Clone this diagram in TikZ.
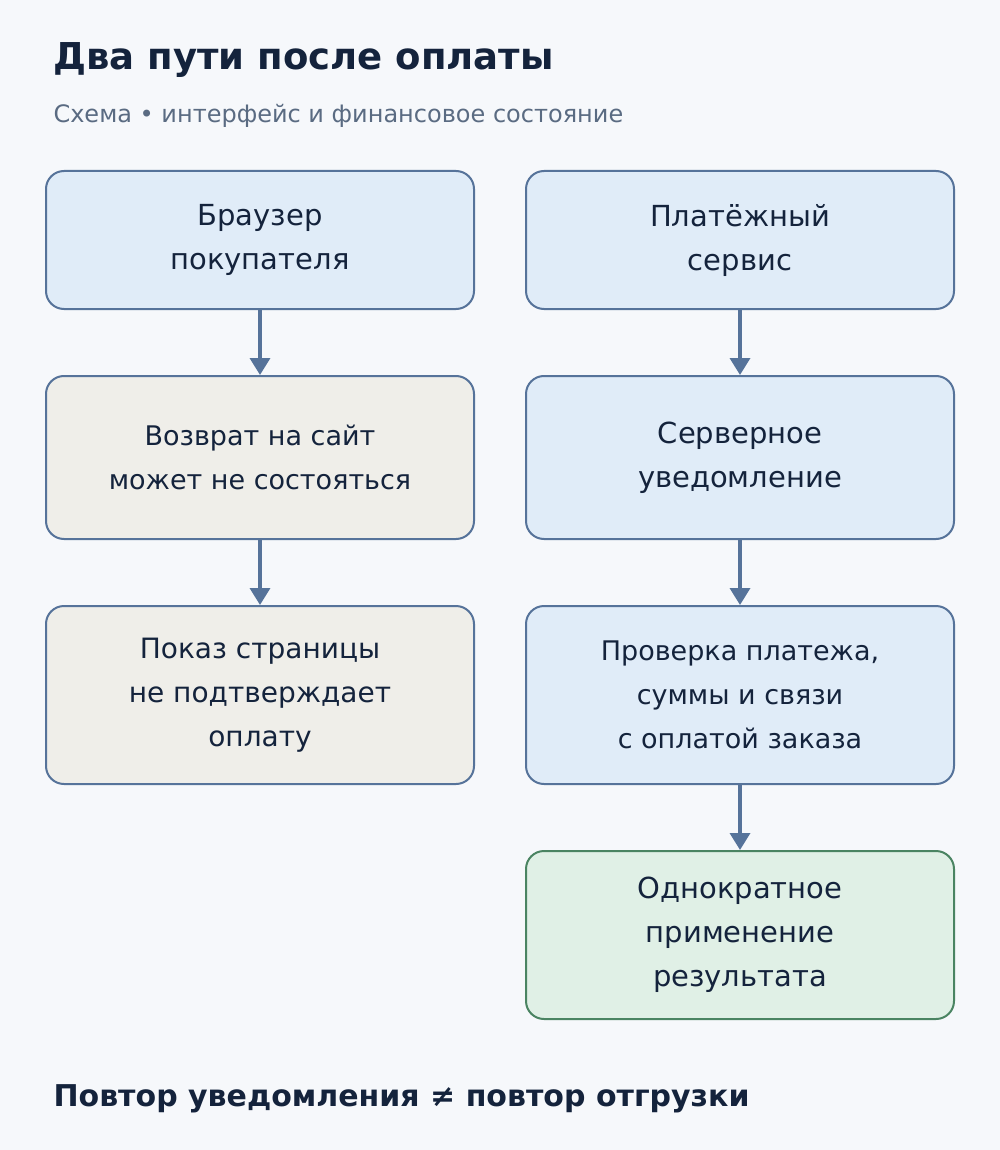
\documentclass[tikz,border=0pt]{standalone}
\usepackage{fontspec}
\setmainfont{DejaVu Sans}
\usetikzlibrary{arrows.meta}
\definecolor{bg}{HTML}{F6F8FB}
\definecolor{ink}{HTML}{14233C}
\definecolor{sub}{HTML}{5A6B82}
\definecolor{bord}{HTML}{56739A}
\definecolor{blue}{HTML}{E0ECF8}
\definecolor{beige}{HTML}{EFEEE9}
\definecolor{green}{HTML}{E0F0E6}
\definecolor{gbord}{HTML}{4A8462}
\begin{document}
\begin{tikzpicture}[x=1pt,y=-1pt,
 box/.style={draw=bord,line width=2pt,rounded corners=18pt,align=center,text=ink,font=\fontsize{29}{44}\selectfont,inner sep=0pt},
 arr/.style={draw=bord,line width=3.5pt,-{Triangle[length=17pt,width=20pt]}}]
\fill[bg] (0,0) rectangle (1000,1150);
\useasboundingbox (0,0) rectangle (1000,1150);
\node[anchor=west,text=ink,font=\fontsize{37}{40}\selectfont\bfseries] (title) at (50,60) {Два пути после оплаты};
\node[anchor=west,text=sub,font=\fontsize{24}{28}\selectfont] (subt) at (50,116) {Схема • интерфейс и финансовое состояние};
\node[box,fill=blue,minimum width=428pt,minimum height=138pt] (a1) at (260,240) {Браузер\\покупателя};
\node[box,fill=beige,minimum width=428pt,minimum height=163pt,font=\fontsize{27}{44}\selectfont] (a2) at (260,457.5) {Возврат на сайт\\может не состояться};
\node[box,fill=beige,minimum width=428pt,minimum height=178pt,font=\fontsize{28}{44}\selectfont] (a3) at (260,695) {Показ страницы\\не подтверждает\\оплату};
\node[box,fill=blue,minimum width=428pt,minimum height=138pt] (b1) at (740,240) {Платёжный\\сервис};
\node[box,fill=blue,minimum width=428pt,minimum height=163pt] (b2) at (740,457.5) {Серверное\\уведомление};
\node[box,fill=blue,minimum width=428pt,minimum height=178pt,font=\fontsize{27}{44}\selectfont] (b3) at (740,695) {Проверка платежа,\\суммы и связи\\с оплатой заказа};
\node[box,fill=green,draw=gbord,minimum width=428pt,minimum height=168pt] (b4) at (740,935) {Однократное\\применение\\результата};
\draw[arr] (a1) -- (a2);
\draw[arr] (a2) -- (a3);
\draw[arr] (b1) -- (b2);
\draw[arr] (b2) -- (b3);
\draw[arr] (b3) -- (b4);
\node[anchor=west,text=ink,font=\fontsize{30}{34}\selectfont\bfseries] (foot) at (50,1099) {Повтор уведомления ≠ повтор отгрузки};
\end{tikzpicture}
\end{document}
